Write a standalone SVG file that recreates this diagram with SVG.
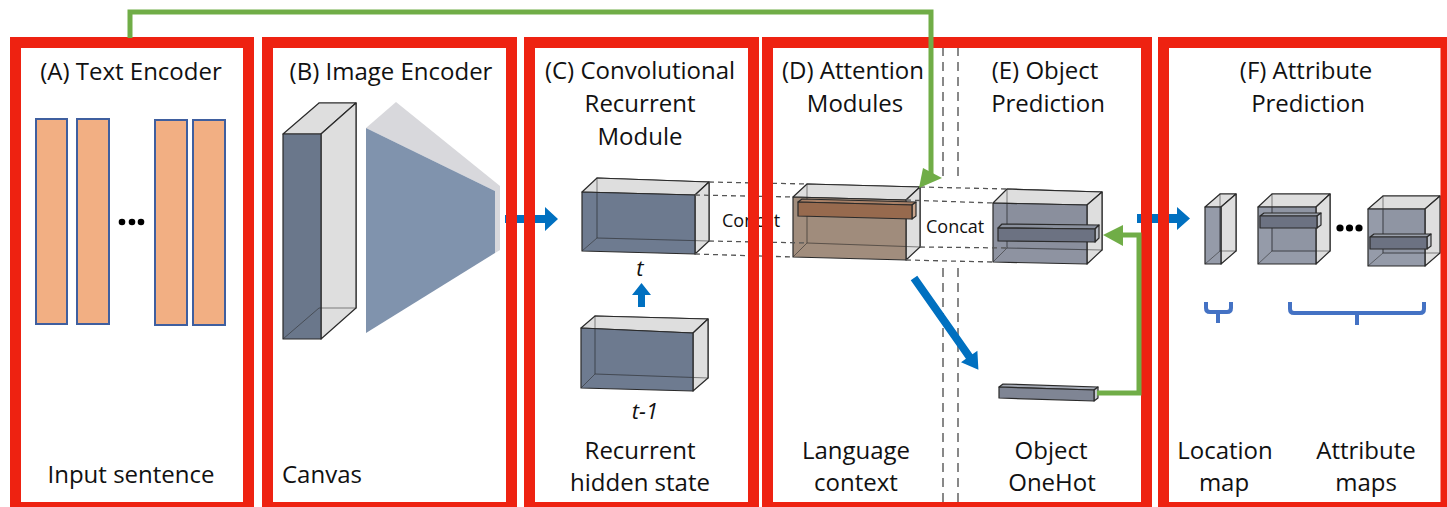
<svg xmlns="http://www.w3.org/2000/svg" width="1447" height="507" viewBox="0 0 1447 507">
  <style>
    .lbl { font-family: "Open Sans", "Liberation Sans", sans-serif; font-size: 24px; fill: #111; text-anchor: middle; }
    .small { font-family: "Open Sans", "Liberation Sans", sans-serif; font-size: 18px; fill: #111; }
    .ital { font-family: "Open Sans", "Liberation Sans", sans-serif; font-size: 22px; font-style: italic; fill: #111; text-anchor: middle; }
    .frame { fill: none; stroke: #EE2211; stroke-width: 11; }
    .token { fill: #F2AF83; stroke: #3F5F9F; stroke-width: 2; }
    .edge { stroke: #2a2a2a; stroke-width: 1.2; stroke-linejoin: round; }
    .light { fill: #DEDEDE; }
    .dark { fill: #66748A; fill-opacity: 0.95; }
    .map { fill: #7E8596; fill-opacity: 0.82; }
    .hid { fill: none; stroke: #2a2a2a; stroke-width: 1; stroke-opacity: 0.55; }
    .dash { fill: none; stroke: #555; stroke-width: 1.3; stroke-dasharray: 5 4; }
    .vdash { fill: none; stroke: #888; stroke-width: 2; stroke-dasharray: 9 6; }
    .blue { fill: #0070C0; }
    .green { fill: none; stroke: #70AD47; stroke-width: 5; }
    .brace { fill: none; stroke: #4472C4; stroke-width: 4; stroke-linejoin: round; }
  </style>

  <!-- (A) Text encoder: word tokens -->
  <g id="text-encoder">
    <rect class="token" x="36" y="119" width="31" height="205"/>
    <rect class="token" x="77" y="119" width="32" height="205"/>
    <rect class="token" x="155" y="120" width="32" height="205"/>
    <rect class="token" x="193" y="120" width="32" height="205"/>
    <circle cx="122" cy="222" r="3.3" fill="#000"/>
    <circle cx="132" cy="222" r="3.3" fill="#000"/>
    <circle cx="141" cy="222" r="3.3" fill="#000"/>
    <text class="lbl" x="131" y="80">(A) Text Encoder</text>
    <text class="lbl" x="131" y="483">Input sentence</text>
  </g>

  <!-- (B) Image encoder: canvas volume and encoder funnel -->
  <g id="image-encoder">
    <rect x="319" y="103" width="37" height="205" fill="#E6E6E6" class="edge"/>
    <polygon class="light edge" points="283,134 319,103 356,103 321,134"/>
    <polygon class="light edge" points="321,134 356,103 356,308 321,339"/>
    <rect x="283" y="134" width="38" height="205" fill="#6A778B" class="edge"/>
    <polyline class="hid" points="283,339 319,308 356,308"/>
    <polygon points="366,128 396,102 500,186 500,250 495,253 495,191" fill="#D8D8DC"/>
    <polygon points="366,128 495,191 495,253 366,333" fill="#8093AD"/>
    <text class="lbl" x="391" y="80">(B) Image Encoder</text>
    <text class="lbl" x="282" y="483" style="text-anchor:start">Canvas</text>
  </g>

  <!-- (C) Convolutional recurrent module -->
  <g id="conv-recurrent">
    <polygon class="light edge" points="597,178 709,182 709,241 597,238"/>
    <polygon class="light edge" points="582,192 597,178 709,182 695,195"/>
    <polygon class="light edge" points="695,195 709,182 709,241 695,254"/>
    <polygon class="dark edge" points="582,192 695,195 695,254 582,251"/>
    <polyline class="hid" points="597,178 597,238 709,241"/>
    <line class="hid" x1="582" y1="251" x2="597" y2="238"/>
    <text class="ital" x="640" y="276">t</text>

    <polygon class="light edge" points="595,316 708,319 708,378 595,374"/>
    <polygon class="light edge" points="581,328 595,316 708,319 693,333"/>
    <polygon class="light edge" points="693,333 708,319 708,378 693,391"/>
    <polygon class="dark edge" points="581,328 693,333 693,391 581,388"/>
    <polyline class="hid" points="595,316 595,374 708,378"/>
    <line class="hid" x1="581" y1="388" x2="595" y2="374"/>
    <text class="ital" x="645" y="419">t-1</text>

    <text class="lbl" x="640" y="79">(C) Convolutional</text>
    <text class="lbl" x="640" y="112">Recurrent</text>
    <text class="lbl" x="640" y="145">Module</text>
    <text class="lbl" x="640" y="459">Recurrent</text>
    <text class="lbl" x="640" y="491">hidden state</text>
  </g>

  <!-- (D) Attention modules: language context volume -->
  <g id="attention">
    <polygon class="light edge" points="807,184 920,187 920,247 807,243"/>
    <polygon class="light edge" points="793,197 807,184 920,187 906,200"/>
    <polygon class="light edge" points="906,200 920,187 920,247 906,260"/>
    <polygon class="edge" points="793,197 906,200 906,260 793,257" fill="#9C8776" fill-opacity="0.95"/>
    <polyline class="hid" points="807,184 807,243 920,247"/>
    <line class="hid" x1="793" y1="257" x2="807" y2="243"/>
    <polygon class="edge" points="798,202 802,199 916,202 912,205" fill="#A88066"/>
    <polygon class="edge" points="912,205 916,202 916,216 912,219" fill="#C9A58C"/>
    <polygon class="edge" points="798,202 912,205 912,219 798,216" fill="#976A4E"/>
    <text class="lbl" x="853" y="79">(D) Attention</text>
    <text class="lbl" x="855" y="112">Modules</text>
    <text class="lbl" x="856" y="459">Language</text>
    <text class="lbl" x="856" y="491">context</text>
  </g>

  <!-- (E) Object prediction -->
  <g id="object-prediction">
    <polygon class="light edge" points="1007,189 1102,192 1102,250 1007,248"/>
    <polygon class="light edge" points="993,203 1007,189 1102,192 1087,205"/>
    <polygon class="light edge" points="1087,205 1102,192 1102,250 1087,264"/>
    <polygon class="edge" points="993,203 1087,205 1087,264 993,262" fill="#7E8494" fill-opacity="0.88"/>
    <polyline class="hid" points="1007,189 1007,248 1102,250"/>
    <line class="hid" x1="993" y1="262" x2="1007" y2="248"/>
    <polygon class="edge" points="998,228 1002,224 1099,225 1095,229" fill="#8A909D"/>
    <polygon class="edge" points="1095,229 1099,225 1099,238 1095,242" fill="#B8BCC4"/>
    <polygon class="edge" points="998,228 1095,229 1095,242 998,241" fill="#6C7282"/>

    <polygon class="edge" points="999,387 1003,384 1098,387 1094,390" fill="#A3A8B3"/>
    <polygon class="edge" points="1094,390 1098,387 1098,398 1094,401" fill="#C4C8CE"/>
    <polygon class="edge" points="999,387 1094,390 1094,401 999,398" fill="#7F8594"/>

    <text class="lbl" x="1045" y="79">(E) Object</text>
    <text class="lbl" x="1048" y="112">Prediction</text>
    <text class="lbl" x="1051" y="459">Object</text>
    <text class="lbl" x="1052" y="491">OneHot</text>
  </g>

  <!-- (F) Attribute prediction: location map and attribute maps -->
  <g id="attribute-prediction">
    <rect class="light edge" x="1220" y="194" width="16" height="57"/>
    <polygon class="light edge" points="1205,207 1220,194 1236,194 1221,207"/>
    <polygon class="light edge" points="1221,207 1236,194 1236,251 1221,264"/>
    <rect x="1205" y="207" width="16" height="57" class="map edge"/>
    <polyline class="hid" points="1220,194 1220,251 1236,251"/>
    <line class="hid" x1="1205" y1="264" x2="1220" y2="251"/>

    <rect class="light edge" x="1272" y="194" width="58" height="57"/>
    <polygon class="light edge" points="1258,207 1272,194 1330,194 1316,207"/>
    <polygon class="light edge" points="1316,207 1330,194 1330,251 1316,264"/>
    <rect x="1258" y="207" width="58" height="57" class="map edge"/>
    <polyline class="hid" points="1272,194 1272,251 1330,251"/>
    <line class="hid" x1="1258" y1="264" x2="1272" y2="251"/>
    <polygon class="edge" points="1260,216 1264,213 1321,213 1317,216" fill="#9AA0AB"/>
    <polygon class="edge" points="1317,216 1321,213 1321,225 1317,228" fill="#C4C8CE"/>
    <rect x="1260" y="216" width="57" height="12" fill="#6C7282" class="edge"/>

    <circle cx="1340" cy="228" r="3.6" fill="#000"/>
    <circle cx="1349.5" cy="228" r="3.6" fill="#000"/>
    <circle cx="1359" cy="228" r="3.6" fill="#000"/>

    <rect class="light edge" x="1383" y="196" width="57" height="57"/>
    <polygon class="light edge" points="1368,209 1383,196 1440,196 1425,209"/>
    <polygon class="light edge" points="1425,209 1440,196 1440,253 1425,266"/>
    <rect x="1368" y="209" width="57" height="57" class="map edge"/>
    <polyline class="hid" points="1383,196 1383,253 1440,253"/>
    <line class="hid" x1="1368" y1="266" x2="1383" y2="253"/>
    <polygon class="edge" points="1370,237 1374,234 1431,234 1427,237" fill="#9AA0AB"/>
    <polygon class="edge" points="1427,237 1431,234 1431,246 1427,249" fill="#C4C8CE"/>
    <rect x="1370" y="237" width="57" height="12" fill="#6C7282" class="edge"/>

    <path class="brace" d="M1206,302 V308 Q1206,312 1210,312 H1227 Q1231,312 1231,308 V302 M1218,312 V323"/>
    <path class="brace" d="M1290,302 V309 Q1290,313 1294,313 H1420 Q1424,313 1424,309 V302 M1357,313 V325"/>

    <text class="lbl" x="1306" y="79">(F) Attribute</text>
    <text class="lbl" x="1308" y="112">Prediction</text>
    <text class="lbl" x="1225" y="459">Location</text>
    <text class="lbl" x="1224" y="491">map</text>
    <text class="lbl" x="1366" y="459">Attribute</text>
    <text class="lbl" x="1366" y="491">maps</text>
  </g>

  <!-- connectors: concat guides, flow arrows and feedback links -->
  <g id="connectors">
    <path class="dash" d="M709,182 L807,184 M695,195 L793,197 M709,241 L807,243 M695,254 L793,257"/>
    <path class="dash" d="M920,187 L1007,189 M906,200 L993,203 M920,247 L1007,248 M906,260 L993,262"/>
    <text class="small" x="722" y="227">Concat</text>
    <text class="small" x="926" y="233">Concat</text>

    <path class="vdash" d="M943,47 V176 M943,268 V502 M958,47 V176 M958,268 V502"/>

    <path class="blue" d="M505,215 H545 V207 L558,219 L545,231 V223 H505 Z"/>
    <path class="blue" d="M1137,214 H1177 V207 L1190,218.5 L1177,230 V223 H1137 Z"/>
    <path class="blue" d="M638,307 V295 H632 L641.5,283 L651,295 H645 V307 Z"/>
    <path class="blue" transform="translate(914,278) rotate(54.9)" d="M0,-4 H96 V-10 L112,0 L96,10 V4 H0 Z"/>
  </g>

  <!-- section frames -->
  <g id="frames">
    <rect class="frame" x="15.5" y="42.5" width="233" height="465"/>
    <rect class="frame" x="267.5" y="42.5" width="244" height="465"/>
    <rect class="frame" x="529.5" y="42.5" width="224" height="465"/>
    <rect class="frame" x="767.5" y="42.5" width="379" height="465"/>
    <rect class="frame" x="1163.5" y="42.5" width="282.5" height="465"/>
  </g>

  <!-- feedback links drawn above the frames -->
  <g id="feedback">
    <path class="green" d="M130,38 V12 H931 V178"/>
    <polygon points="919,188 923,168 942,178" fill="#70AD47"/>
    <path class="green" d="M1097,393 H1139 V235 H1120"/>
    <polygon points="1103,235 1123,225 1123,246" fill="#70AD47"/>
  </g>
</svg>
